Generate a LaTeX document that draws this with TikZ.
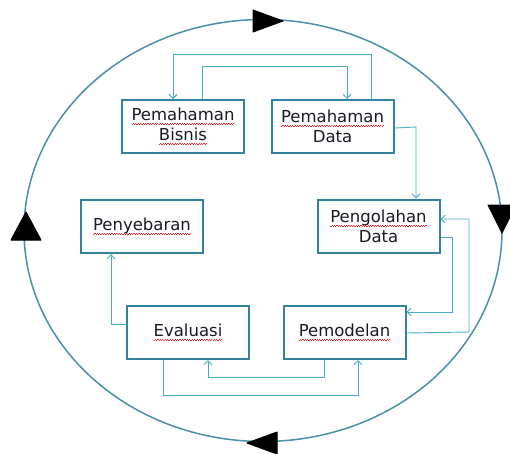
\documentclass[tikz,border=0pt]{standalone}
\usepackage{fontspec}
\setmainfont{DejaVu Sans}
\usetikzlibrary{arrows.meta}
\definecolor{boxc}{HTML}{31849B}
\definecolor{connc}{HTML}{4BACC6}
\definecolor{ellc}{HTML}{4A90A6}
\definecolor{txtc}{HTML}{1A1A24}
\definecolor{wavc}{HTML}{FF2020}
\newcommand\rw[1]{\setbox0=\hbox{#1}\leavevmode\rlap{\raisebox{-4.5pt}{\hbox to \wd0{\xleaders\hbox{\textcolor{wavc}{\rule[0pt]{1.2pt}{0.8pt}\rule[1pt]{1.2pt}{0.8pt}}}\hfill}}}\box0}
\tikzset{
  stepbox/.style={draw=boxc, line width=2pt, fill=white, minimum width=122pt, minimum height=53pt,
    inner sep=0pt, align=center, text=txtc, font=\fontsize{16.5}{20}\selectfont},
  conn/.style={draw=connc, line width=0.9pt, -{Straight Barb[length=4pt,width=8pt]}},
  tri/.style={fill=black, draw=black, line join=round, line width=1pt}
}
\begin{document}
\begin{tikzpicture}[x=1pt,y=-1pt]
\useasboundingbox[fill=white] (0,0) rectangle (510,453);
\draw[ellc, line width=1.5pt] (263,230.5) ellipse [x radius=239, y radius=211];
% direction triangles
\path[tri] (253,10) -- (283,21) -- (253,32) -- cycle;
\path[tri] (488,205) -- (502,233) -- (516,205) -- cycle;
\path[tri] (277,432) -- (247,443) -- (277,454) -- cycle;
\path[tri] (11,240) -- (26,212) -- (41,240) -- cycle;
% boxes
\node[stepbox] (pb) at (183,126.5) {\rw{Pemahaman}\\\rw{Bisnis}};
\node[stepbox] (pd) at (332.5,126.5) {\rw{Pemahaman}\\Data};
\node[stepbox] (po) at (378.5,226) {\rw{Pengolahan}\\Data};
\node[stepbox] (py) at (142,226.5) {\rw{Penyebaran}};
\node[stepbox] (ev) at (188,332.5) {\rw{Evaluasi}};
\node[stepbox] (pm) at (344.5,332.5) {\rw{Pemodelan}};
% connectors
\draw[conn] (pd.north -| 371,0) -- (371,54) -- (173,54) -- (pb.north -| 173,0);
\draw[conn] (pb.north -| 202,0) -- (202,66) -- (347,66) -- (pd.north -| 347,0);
\draw[conn] (pd.east |- 0,128) -- (416,127) -- (po.north -| 416,0);
\draw[conn] (po.east |- 0,237) -- (452,237) -- (452,312) -- (pm.east |- 0,312);
\draw[conn] (pm.east |- 0,333) -- (469,332) -- (469,219) -- (po.east |- 0,219);
\draw[conn] (pm.south -| 324,0) -- (324,377) -- (208,377) -- (ev.south -| 208,0);
\draw[conn] (ev.south -| 163,0) -- (163,395) -- (358,395) -- (pm.south -| 358,0);
\draw[conn] (ev.west |- 0,324) -- (111,324) -- (py.south -| 111,0);
\end{tikzpicture}
\end{document}
